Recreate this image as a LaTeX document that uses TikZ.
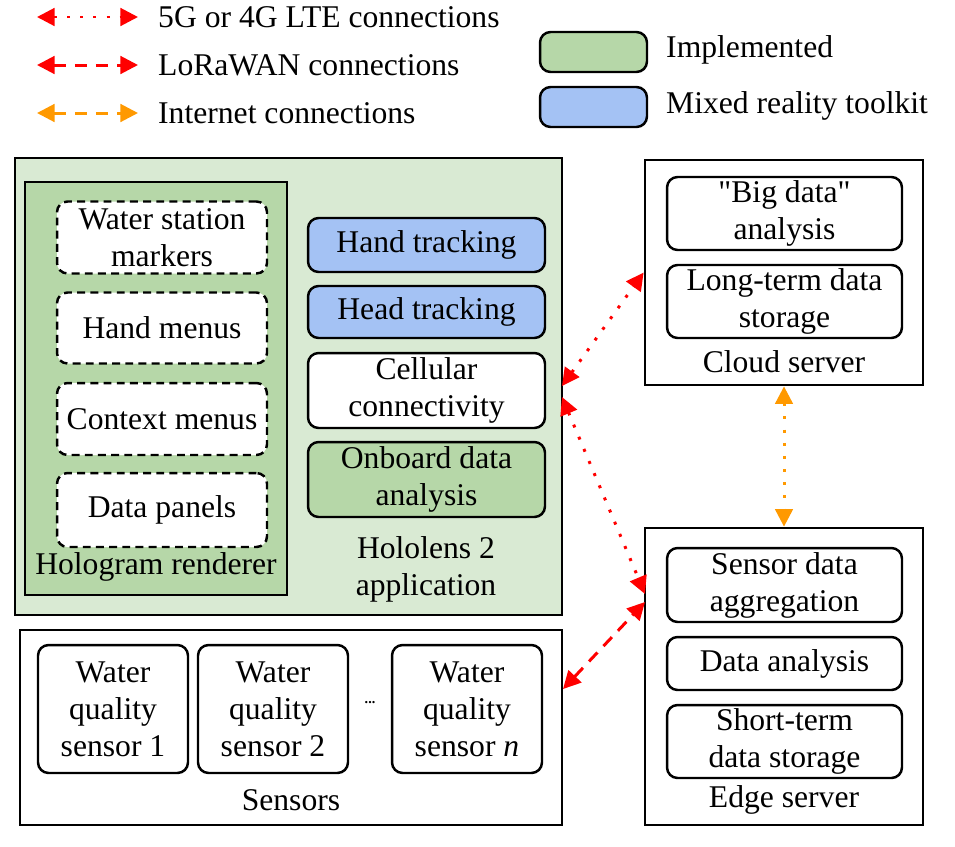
\documentclass[tikz,border=0pt]{standalone}
\usepackage{fontspec}
\setmainfont{Liberation Serif}[Ligatures=TeXOff]
\usetikzlibrary{positioning,arrows.meta}
\definecolor{lightgreen}{HTML}{D9EAD3}
\definecolor{midgreen}{HTML}{B6D7A8}
\definecolor{mrtkblue}{HTML}{A4C2F4}
\definecolor{linkred}{HTML}{FF0000}
\definecolor{netorange}{HTML}{FF9900}
\tikzset{part/.style = {draw,line width=1.4pt,rounded corners=6pt,align=center,inner sep=0pt,fill=white},
         ghost/.style = {part,dash pattern=on 4.5pt off 3pt},
         group/.style = {draw,line width=1.6pt,inner sep=0pt,align=center},
         title/.style = {align=center,inner sep=0pt},
         bothtips/.style = {{Triangle[length=10pt,width=10pt]}-{Triangle[length=10pt,width=10pt]}},
         lte/.style = {bothtips,linkred,line width=1.7pt,dash pattern=on 1.7pt off 5.8pt},
         lora/.style = {bothtips,linkred,line width=1.7pt,dash pattern=on 7pt off 5pt},
         inet/.style = {bothtips,netorange,line width=1.7pt,dash pattern=on 7pt off 5pt},
         inetdot/.style = {bothtips,netorange,line width=1.7pt,dash pattern=on 1.7pt off 5.8pt}}

\begin{document}
\begin{tikzpicture}[x=0.02cm,y=-0.02cm,font=\fontsize{18}{21}\selectfont]
    \useasboundingbox (0,0) rectangle (955,846);
    % legend
    \coordinate (l1a) at (37,17);  \coordinate (l1b) at (138,17);
    \coordinate (l2a) at (37,65);  \coordinate (l2b) at (138,65);
    \coordinate (l3a) at (37,113); \coordinate (l3b) at (138,113);
    \draw[lte]  (l1a) -- (l1b);
    \draw[lora] (l2a) -- (l2b);
    \draw[inet] (l3a) -- (l3b);
    \node[anchor=west] (l1) at (152,17)  {5G or 4G LTE connections};
    \node[anchor=west] (l2) at (152,65)  {LoRaWAN connections};
    \node[anchor=west] (l3) at (152,113) {Internet connections};
    \node[part,fill=midgreen,minimum width=2.14cm,minimum height=0.8cm] (kimpl) at (593.5,52) {};
    \node[part,fill=mrtkblue,minimum width=2.14cm,minimum height=0.8cm] (kmrtk) at (593.5,107) {};
    \node[anchor=west] (kimpltext) at (660,50)  {Implemented};
    \node[anchor=west] (kmrtktext) at (660,106) {Mixed reality toolkit};

    % hololens application
    \node[group,fill=lightgreen,minimum width=10.94cm,minimum height=9.14cm] (holo) at (288.5,386.5) {};
    \node[group,fill=midgreen,minimum width=5.24cm,minimum height=8.26cm] (render) at (156,388.5) {};
    \node[ghost,minimum width=4.2cm,minimum height=1.44cm] (markers) at (162,237.5) {Water station\\markers};
    \node[ghost,minimum width=4.2cm,minimum height=1.42cm] (handmenu) at (162,328) {Hand menus};
    \node[ghost,minimum width=4.2cm,minimum height=1.44cm] (ctxmenu) at (162,419) {Context menus};
    \node[ghost,minimum width=4.2cm,minimum height=1.48cm] (panels) at (162,510) {Data panels};
    \node[title] (rendertitle) at (156,567) {Hologram renderer};
    \node[part,fill=mrtkblue,minimum width=4.74cm,minimum height=1.08cm] (handtrack) at (426.5,245) {Hand tracking};
    \node[part,fill=mrtkblue,minimum width=4.74cm,minimum height=1.04cm] (headtrack) at (426.5,312) {Head tracking};
    \node[part,minimum width=4.74cm,minimum height=1.5cm] (cell) at (426.5,390.5) {Cellular\\connectivity};
    \node[part,fill=midgreen,minimum width=4.74cm,minimum height=1.5cm] (onboard) at (426.5,479.5) {Onboard data\\analysis};
    \node[title] (holotitle) at (426,569) {Hololens 2\\application};

    % cloud server
    \node[group,minimum width=5.56cm,minimum height=4.5cm] (cloud) at (784,272.5) {};
    \node[part,minimum width=4.7cm,minimum height=1.46cm] (bigdata) at (784.5,213.5) {"Big data"\\analysis};
    \node[part,minimum width=4.7cm,minimum height=1.46cm] (longterm) at (784.5,301.5) {Long-term data\\storage};
    \node[title] (cloudtitle) at (784,362) {Cloud server};

    % edge server
    \node[group,minimum width=5.56cm,minimum height=5.94cm] (edge) at (784,676.5) {};
    \node[part,minimum width=4.7cm,minimum height=1.48cm] (aggr) at (784.5,585) {Sensor data\\aggregation};
    \node[part,minimum width=4.7cm,minimum height=1.06cm] (edgeana) at (784.5,663.5) {Data analysis};
    \node[part,minimum width=4.7cm,minimum height=1.46cm] (shortterm) at (784.5,741.5) {Short-term\\data storage};
    \node[title] (edgetitle) at (784,800) {Edge server};

    % sensors
    \node[group,minimum width=10.84cm,minimum height=3.9cm] (sensors) at (291,727.5) {};
    \node[part,minimum width=3cm,minimum height=2.56cm] (s1) at (113,709) {Water\\quality\\sensor 1};
    \node[part,minimum width=3cm,minimum height=2.56cm] (s2) at (273,709) {Water\\quality\\sensor 2};
    \node[part,minimum width=3cm,minimum height=2.56cm] (sn) at (467,709) {Water\\quality\\sensor \textit{n}};
    \node[font=\fontsize{8}{8}\selectfont\bfseries] (sdots) at (370,703) {...};
    \node[title] (sensorstitle) at (291,800) {Sensors};

    % connections
    \coordinate (cellup) at (562,386);
    \coordinate (celldown) at (562,397);
    \coordinate (edgelte) at (645,594);
    \coordinate (edgelora) at (645,602);
    \coordinate (sensorlora) at (563,689);
    \draw[lte] (cellup) -- (cloud.west);
    \draw[lte] (celldown) -- (edgelte);
    \draw[lora] (sensorlora) -- (edgelora);
    \draw[inetdot] (cloud.south) -- (edge.north);
\end{tikzpicture}
\end{document}
